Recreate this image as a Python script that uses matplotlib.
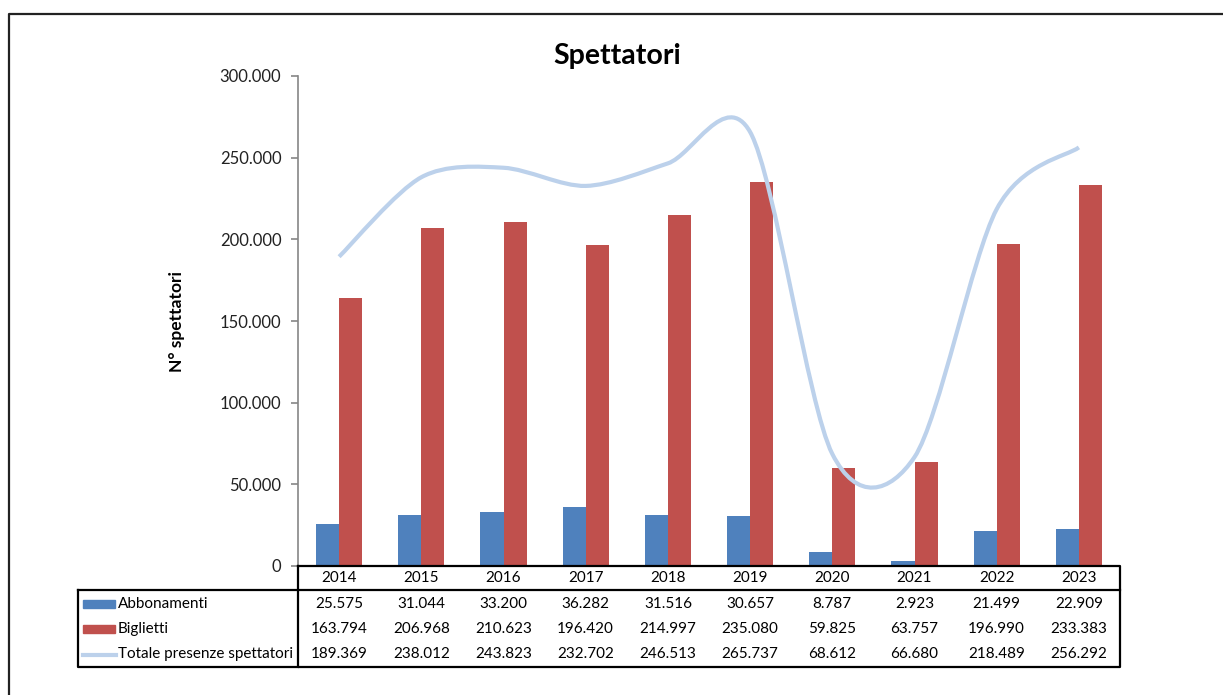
import matplotlib
matplotlib.use('Agg')
import matplotlib.pyplot as plt
from matplotlib.path import Path
from matplotlib.patches import PathPatch, Rectangle
from matplotlib.lines import Line2D
from matplotlib.ticker import FuncFormatter, MultipleLocator
import matplotlib.transforms as mtransforms

plt.rcParams['font.family'] = ['Lato', 'DejaVu Sans']

# dati
anni = ['2014', '2015', '2016', '2017', '2018', '2019', '2020', '2021', '2022', '2023']
abbonamenti = [25575, 31044, 33200, 36282, 31516, 30657, 8787, 2923, 21499, 22909]
biglietti = [163794, 206968, 210623, 196420, 214997, 235080, 59825, 63757, 196990, 233383]
totale = [189369, 238012, 243823, 232702, 246513, 265737, 68612, 66680, 218489, 256292]

serie = ['Abbonamenti', 'Biglietti', 'Totale presenze spettatori']
col_abb = '#4F81BD'
col_big = '#C0504D'
col_tot = '#BCD1EB'

W, H = 1223, 695


def fmt(v):
    return f"{v:,.0f}".replace(',', '.')


def fy(y):
    # pixel dall'alto -> coordinate figura
    return 1 - y / H


def fx(x):
    return x / W


fig = plt.figure(figsize=(W / 100, H / 100), dpi=100)
ax = fig.add_axes([fx(298), fy(566), fx(1120) - fx(298), fy(76) - fy(566)])

x = list(range(len(anni)))
w = 0.28
ax.bar([i - w / 2 for i in x], abbonamenti, width=w, color=col_abb, zorder=2)
ax.bar([i + w / 2 for i in x], biglietti, width=w, color=col_big, zorder=2)

# linea smussata stile Excel (bezier tra i punti)
tens = 0.15
pts = list(zip(x, totale))
verts = [pts[0]]
codes = [Path.MOVETO]
for k in range(len(pts) - 1):
    p0 = pts[k - 1] if k > 0 else pts[k]
    p1 = pts[k]
    p2 = pts[k + 1]
    p3 = pts[k + 2] if k + 2 < len(pts) else pts[k + 1]
    c1 = (p1[0] + (p2[0] - p0[0]) * tens, p1[1] + (p2[1] - p0[1]) * tens)
    c2 = (p2[0] - (p3[0] - p1[0]) * tens, p2[1] - (p3[1] - p1[1]) * tens)
    verts += [c1, c2, p2]
    codes += [Path.CURVE4] * 3
ax.add_patch(PathPatch(Path(verts, codes), facecolor='none', edgecolor=col_tot,
                       lw=3, capstyle='butt', zorder=3))

ax.set_xlim(-0.5, len(anni) - 0.5)
ax.set_ylim(0, 300000)
ax.yaxis.set_major_locator(MultipleLocator(50000))
ax.yaxis.set_major_formatter(FuncFormatter(lambda v, p: fmt(v)))
ax.set_xticks([])
for s in ['top', 'right', 'bottom']:
    ax.spines[s].set_visible(False)
ax.spines['left'].set_color('#868686')
ax.spines['left'].set_linewidth(1.2)
ax.tick_params(axis='y', direction='out', length=5, width=1.2, color='#868686',
               labelsize=12, labelcolor='#222222', pad=7)
ax.set_ylabel('N° spettatori', fontsize=12.5, fontweight='bold')
ax.yaxis.set_label_coords((185 - 298) / (1120 - 298), 0.5)

fig.text(0.505, fy(56), 'Spettatori', fontsize=20.5, fontweight='bold',
         ha='center', va='center')

# tabella dati
trans = mtransforms.blended_transform_factory(ax.transData, fig.transFigure)
lw_tab = 1.6
row_y = [604, 629, 654]
for i, a in enumerate(anni):
    fig.text(i, fy(578), a, transform=trans, ha='center', va='center', fontsize=11)
    for r, vals in enumerate([abbonamenti, biglietti, totale]):
        fig.text(i, fy(row_y[r]), fmt(vals[i]), transform=trans,
                 ha='center', va='center', fontsize=11)

# bordi tabella
fig.add_artist(Line2D([fx(298), fx(1120), fx(1120), fx(298), fx(298)],
                      [fy(566), fy(566), fy(667), fy(667), fy(566)],
                      color='black', lw=lw_tab))
fig.add_artist(Line2D([fx(78), fx(1120)], [fy(590), fy(590)], color='black', lw=lw_tab))
fig.add_artist(Line2D([fx(78), fx(78), fx(298)], [fy(590), fy(667), fy(667)],
                      color='black', lw=lw_tab))

# etichette con chiavi legenda
fig.add_artist(Rectangle((fx(83), fy(608)), fx(32), fy(600) - fy(608), color=col_abb))
fig.add_artist(Rectangle((fx(83), fy(633)), fx(32), fy(625) - fy(633), color=col_big))
fig.add_artist(Line2D([fx(83), fx(116)], [fy(655), fy(655)], color=col_tot, lw=3))
for r, name in enumerate(serie):
    fig.text(fx(118), fy(row_y[r]), name, ha='left', va='center', fontsize=11)

# cornice esterna
fig.add_artist(Line2D([fx(9), fx(9), fx(1240)], [fy(720), fy(14), fy(14)],
                      color='#222222', lw=1.6))

fig.savefig('out.png', dpi=100)
